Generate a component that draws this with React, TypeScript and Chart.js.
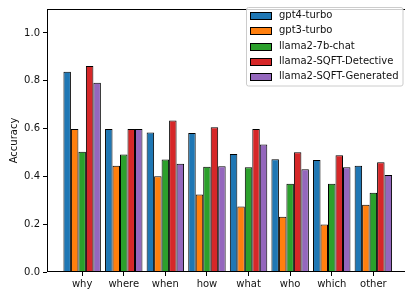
import React, { useEffect, useRef } from 'react';
import { Chart, registerables } from 'chart.js';

Chart.register(...registerables);

const categories = ['why', 'where', 'when', 'how', 'what', 'who', 'which', 'other'];
const gpt4Turbo = [0.838, 0.598, 0.583, 0.581, 0.494, 0.472, 0.468, 0.444];
const gpt3Turbo = [0.598, 0.444, 0.4, 0.324, 0.274, 0.231, 0.199, 0.281];
const llama7bChat = [0.503, 0.491, 0.471, 0.44, 0.438, 0.369, 0.369, 0.331];
const sqftDetective = [0.862, 0.598, 0.634, 0.605, 0.598, 0.501, 0.488, 0.459];
const sqftGenerated = [0.792, 0.598, 0.453, 0.442, 0.533, 0.43, 0.438, 0.406];
const seriesNames = ['gpt4-turbo', 'gpt3-turbo', 'llama2-7b-chat', 'llama2-SQFT-Detective', 'llama2-SQFT-Generated'];
const seriesValues = [gpt4Turbo, gpt3Turbo, llama7bChat, sqftDetective, sqftGenerated];
const seriesColors = ['#1f77b4', '#ff7f0e', '#2ca02c', '#d62728', '#9467bd'];
const yTicks = [0, 0.2, 0.4, 0.6, 0.8, 1.0];

const FONT = '"DejaVu Sans", sans-serif';

const framePlugin = {
  id: 'frame',
  afterDatasetsDraw(chart: any) {
    const { ctx, chartArea } = chart;
    const l = Math.round(chartArea.left) + 0.5;
    const t = Math.round(chartArea.top) + 0.5;
    const r = Math.round(chartArea.right) - 0.5;
    const b = Math.round(chartArea.bottom) - 0.5;
    ctx.save();
    ctx.strokeStyle = '#000';
    ctx.lineWidth = 1;
    ctx.strokeRect(l, t, r - l, b - t);
    ctx.restore();
  },
};

const legendPlugin = {
  id: 'mplLegend',
  afterDraw(chart: any) {
    const { ctx } = chart;
    const ds = chart.data.datasets;
    ctx.save();
    const bx = 246.5, by = 7.5, bw = 156.5, bh = 78.5;
    ctx.beginPath();
    (ctx as any).roundRect(bx, by, bw, bh, 2);
    ctx.fillStyle = 'rgba(255,255,255,0.8)';
    ctx.fill();
    ctx.strokeStyle = '#cccccc';
    ctx.lineWidth = 1;
    ctx.stroke();
    ctx.font = `10px ${FONT}`;
    ctx.textBaseline = 'middle';
    ctx.textAlign = 'left';
    ds.forEach((d: any, i: number) => {
      const cy = 15.5 + i * 15.3;
      ctx.fillStyle = d.backgroundColor;
      ctx.fillRect(250.5, Math.round(cy - 3.5) + 0.5, 21, 7);
      ctx.strokeStyle = '#000';
      ctx.strokeRect(250.5, Math.round(cy - 3.5) + 0.5, 21, 7);
      ctx.fillStyle = '#111';
      ctx.fillText(d.label, 279, cy);
    });
    ctx.restore();
  },
};

export default function App() {
  const ref = useRef<HTMLCanvasElement | null>(null);
  useEffect(() => {
    if (!ref.current) return;
    const chart = new Chart(ref.current, {
      type: 'bar',
      data: {
        datasets: seriesNames.map((name, si) => ({
          label: name,
          data: seriesValues[si].map((v, i) => ({ x: i, y: v })),
          backgroundColor: seriesColors[si],
          borderColor: '#000',
          borderWidth: 1,
          categoryPercentage: 0.9,
          barPercentage: 1.0,
        })),
      },
      options: {
        animation: false,
        responsive: false,
        devicePixelRatio: 1,
        layout: { padding: { top: 2, right: 1.5, left: 0, bottom: 0 } },
        plugins: { legend: { display: false }, tooltip: { enabled: false } },
        scales: {
          x: {
            type: 'linear',
            min: -0.845,
            max: 7.845,
            offset: false,
            afterBuildTicks: (s: any) => {
              s.ticks = categories.map((_, i) => ({ value: i }));
            },
            afterFit: (s: any) => {
              s.height = 19;
            },
            border: { display: false },
            grid: { drawOnChartArea: false, drawTicks: true, tickLength: 4, tickColor: '#000', offset: false },
            ticks: {
              autoSkip: false,
              maxRotation: 0,
              padding: 2,
              color: '#111',
              font: { family: FONT, size: 10 },
              callback: (v: any) => categories[v] ?? '',
            },
          },
          y: {
            min: 0,
            max: 1.1,
            afterBuildTicks: (s: any) => {
              s.ticks = yTicks.map((v) => ({ value: v }));
            },
            afterFit: (s: any) => {
              s.width = 47;
            },
            border: { display: false },
            grid: { drawOnChartArea: false, drawTicks: true, tickLength: 4, tickColor: '#000' },
            ticks: {
              padding: 3,
              color: '#111',
              font: { family: FONT, size: 10 },
              callback: (v: any) => Number(v).toFixed(1),
            },
            title: {
              display: true,
              text: 'Accuracy',
              color: '#111',
              font: { family: FONT, size: 10 },
              padding: { top: 8, bottom: 0 },
            },
          },
        },
      },
      plugins: [framePlugin, legendPlugin],
    });
    return () => chart.destroy();
  }, []);
  return (
    <div style={{ position: 'fixed', left: 0, top: 0, width: 405, height: 291, overflow: 'hidden', background: '#fff' }}>
      <canvas ref={ref} width={410} height={291} style={{ display: 'block', width: 410, height: 291 }} />
    </div>
  );
}
